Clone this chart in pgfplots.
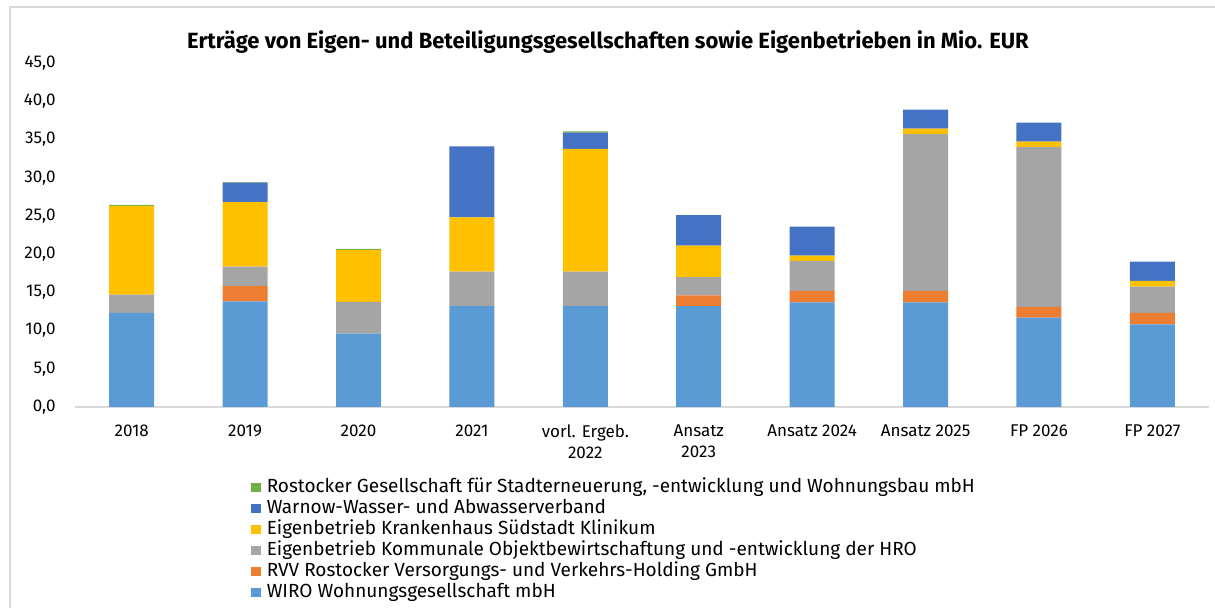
\documentclass[border=0pt]{standalone}
\usepackage{fontspec}
\setmainfont{Fira Sans}
\usepackage{pgfplots}
\usepackage{pgfplotstable}
\pgfplotsset{compat=1.18}
\definecolor{cWiro}{HTML}{5B9BD5}
\definecolor{cRvv}{HTML}{ED7D31}
\definecolor{cKoe}{HTML}{A5A5A5}
\definecolor{cKh}{HTML}{FFC000}
\definecolor{cWar}{HTML}{4472C4}
\definecolor{cRgs}{HTML}{70AD47}
\definecolor{cAxis}{HTML}{D9D9D9}
\pgfplotstableread{
x wiro rvv koe kh warnow rgs
0 12.3 0 2.4 11.6 0 0.15
1 13.8 2.0 2.55 8.45 2.55 0.05
2 9.6 0 4.15 6.8 0 0.13
3 13.2 0 4.5 7.1 9.3 0
4 13.2 0 4.5 16.05 2.15 0.17
5 13.2 1.4 2.4 4.1 4.0 0
6 13.7 1.5 3.9 0.7 3.8 0
7 13.7 1.5 20.5 0.7 2.5 0
8 11.7 1.4 20.9 0.7 2.5 0
9 10.8 1.5 3.45 0.75 2.5 0
}\data
\begin{document}
\begin{tikzpicture}[x=1bp,y=1bp]
\useasboundingbox (0,0) rectangle (1215,608);
\fill[white] (0,0) rectangle (1215,608);
\draw[cAxis, line width=1.5bp] (10,0) -- (10,601) -- (1215,601);
\node[font=\fontsize{22bp}{26bp}\selectfont\bfseries] at (608,566) {Erträge von Eigen- und Beteiligungsgesellschaften sowie Eigenbetrieben in Mio. EUR};
\begin{axis}[
  at={(75bp,201bp)}, anchor=south west,
  scale only axis, width=1134bp, height=344bp,
  xmin=-0.5, xmax=9.5, ymin=0, ymax=45,
  ybar stacked, bar width=45bp,
  axis x line*=bottom, axis y line*=left,
  x axis line style={draw=cAxis, line width=1.5bp},
  y axis line style={draw=none},
  major tick length=0pt,
  xtick=data,
  xticklabels={2018,2019,2020,2021,{vorl. Ergeb.\\2022},{Ansatz\\2023},Ansatz 2024,Ansatz 2025,FP 2026,FP 2027},
  x tick label style={align=center, font=\fontsize{17bp}{21bp}\selectfont, yshift=-14bp},
  ytick={0,5,...,45},
  y tick label style={font=\fontsize{17bp}{21bp}\selectfont, xshift=-16bp},
  /pgf/number format/.cd, fixed, fixed zerofill, precision=1, use comma, assume math mode=true,
  /pgfplots/.cd,
  reverse legend,
  legend cell align=left,
  legend style={at={(0.1526,-0.2007)}, anchor=north west, draw=none, fill=none,
    font=\fontsize{19bp}{21bp}\selectfont, row sep=2bp,
    nodes={inner sep=0pt, text height=14bp, text depth=5bp}},
  legend image code/.code={\fill[#1] (0bp,-4.5bp) rectangle (9.5bp,5bp);},
  every axis plot/.append style={draw=none},
]
\addplot[fill=cWiro] table[x=x,y=wiro] {\data};
\addlegendentry{\hspace{6bp}WIRO Wohnungsgesellschaft mbH}
\addplot[fill=cRvv] table[x=x,y=rvv] {\data};
\addlegendentry{\hspace{6bp}RVV Rostocker Versorgungs- und Verkehrs-Holding GmbH}
\addplot[fill=cKoe] table[x=x,y=koe] {\data};
\addlegendentry{\hspace{6bp}Eigenbetrieb Kommunale Objektbewirtschaftung und -entwicklung der HRO}
\addplot[fill=cKh] table[x=x,y=kh] {\data};
\addlegendentry{\hspace{6bp}Eigenbetrieb Krankenhaus Südstadt Klinikum}
\addplot[fill=cWar] table[x=x,y=warnow] {\data};
\addlegendentry{\hspace{6bp}Warnow-Wasser- und Abwasserverband}
\addplot[fill=cRgs] table[x=x,y=rgs] {\data};
\addlegendentry{\hspace{6bp}Rostocker Gesellschaft für Stadterneuerung, -entwicklung und Wohnungsbau mbH}
\end{axis}
\end{tikzpicture}
\end{document}
